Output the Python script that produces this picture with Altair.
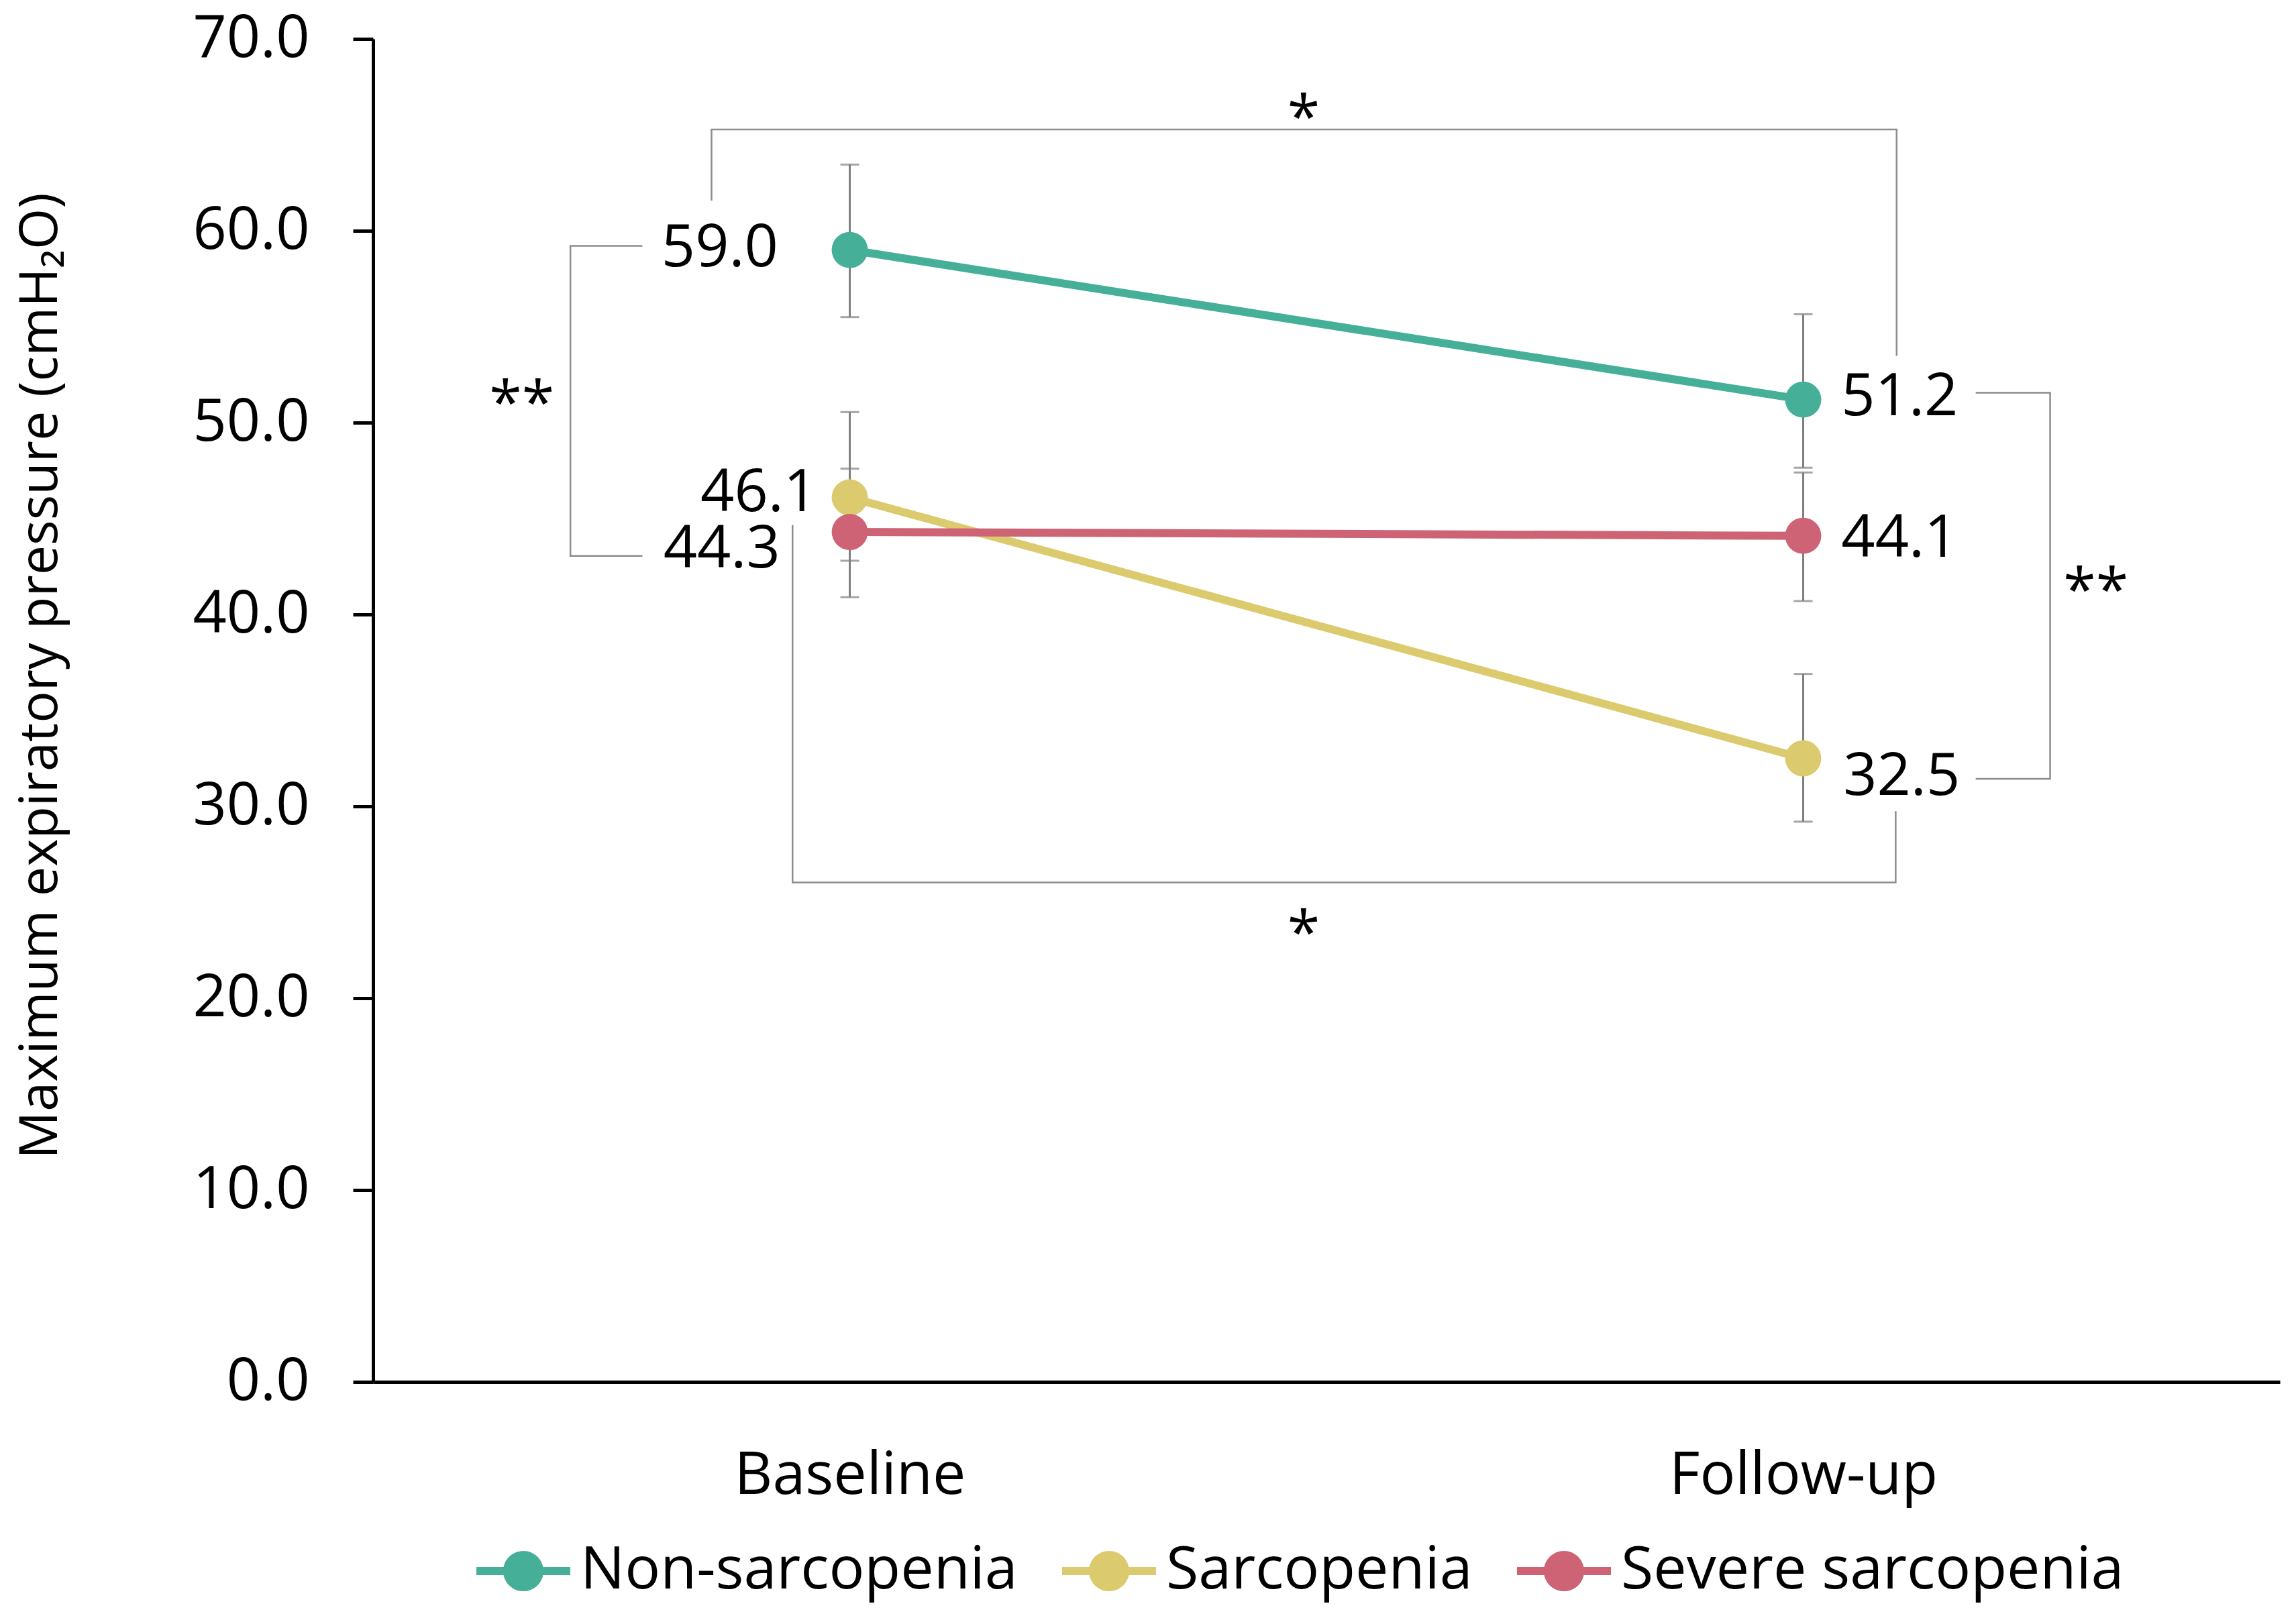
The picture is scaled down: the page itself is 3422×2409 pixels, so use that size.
import altair as alt
import pandas as pd

# ---- data ----
groups = ["Non-sarcopenia", "Sarcopenia", "Severe sarcopenia"]
colors = ["#45AF98", "#DCCB6E", "#CD6375"]
timepoints = ["Baseline", "Follow-up"]
time_pos = [0.5, 1.5]

baseline_mean = [59.0, 46.1, 44.3]
followup_mean = [51.2, 32.5, 44.1]
baseline_low = [55.5, 42.8, 40.9]
baseline_high = [63.45, 50.55, 47.6]
followup_low = [47.65, 29.2, 40.7]
followup_high = [55.65, 36.9, 47.4]

# value-label anchors (data units)
bl_label_x = [0.425, 0.466, 0.427]
bl_label_y = [58.16, 45.39, 42.45]
fu_label_x = [1.540, 1.542, 1.540]
fu_label_y = [50.4, 30.58, 43.0]

# significance brackets (data units)
bracket_id = ["top"] * 4 + ["left"] * 4 + ["bottom"] * 4 + ["right"] * 4
bracket_x = [0.355, 0.355, 1.598, 1.598,
             0.2825, 0.207, 0.207, 0.2825,
             0.440, 0.440, 1.597, 1.597,
             1.681, 1.759, 1.759, 1.681]
bracket_y = [61.57, 65.28, 65.28, 53.48,
             59.21, 59.21, 43.05, 43.05,
             44.66, 26.03, 26.03, 29.75,
             51.56, 51.56, 31.43, 31.43]

star_text = ["*", "*", "**", "**"]
star_x = [0.976, 0.976, 0.156, 1.807]
star_y = [64.87, 22.35, 49.95, 40.2]

y_ticks = [0, 10, 20, 30, 40, 50, 60, 70]
y_title = "Maximum expiratory pressure (cmH\u2082O)"
FONT = "Open Sans"

# ---- tables ----
rows = []
for gi, g in enumerate(groups):
    for ti, t in enumerate(timepoints):
        m = [baseline_mean, followup_mean][ti][gi]
        lo = [baseline_low, followup_low][ti][gi]
        hi = [baseline_high, followup_high][ti][gi]
        rows.append({"group": g, "time": t, "x": time_pos[ti], "y": m,
                     "low": lo, "high": hi})
means = pd.DataFrame(rows)

bl_labels = pd.DataFrame({"x": bl_label_x, "y": bl_label_y,
                          "text": [f"{v:.1f}" for v in baseline_mean]})
fu_labels = pd.DataFrame({"x": fu_label_x, "y": fu_label_y,
                          "text": [f"{v:.1f}" for v in followup_mean]})
brackets = pd.DataFrame({"bracket": bracket_id, "x": bracket_x, "y": bracket_y,
                         "seq": list(range(len(bracket_x)))})
stars = pd.DataFrame({"x": star_x, "y": star_y, "text": star_text})

label_expr = f"datum.value < 1 ? '{timepoints[0]}' : '{timepoints[1]}'"

X = alt.X("x:Q",
          scale=alt.Scale(domain=[0, 2], nice=False, zero=False),
          axis=alt.Axis(values=time_pos, labelExpr=label_expr, title=None,
                        ticks=False, tickSize=0, grid=False,
                        labelFontSize=88, labelFont=FONT, labelColor="#000000",
                        labelPadding=166, labelBaseline="alphabetic",
                        labelLimit=2000,
                        domainColor="#000000", domainWidth=5))

y_axis = alt.Axis(values=y_ticks, format=".1f",
                  title=y_title, grid=False,
                  ticks=True, tickSize=30, tickWidth=5, tickColor="#000000",
                  labelFontSize=88, labelFont=FONT, labelColor="#000000",
                  labelPadding=65, labelLimit=2000,
                  domainColor="#000000", domainWidth=5,
                  titleFontSize=79, titleFont=FONT, titleColor="#000000",
                  titleFontWeight="normal", titleAngle=270,
                  titleX=-496, titleY=949, titleAlign="center",
                  titleBaseline="middle", titleLimit=3000)
y_scale = alt.Scale(domain=[0, 70], nice=False, zero=True)


def Y(field):
    return alt.Y(f"{field}:Q", scale=y_scale, axis=y_axis, title=y_title)


legend = alt.Legend(
    title=None, orient="none", direction="horizontal",
    legendX=154, legendY=2214,
    symbolType="M-1,-0.086 L1,-0.086 L1,0.086 L-1,0.086 Z "
               "M0.43,0 A0.43,0.43 0 1 1 -0.43,0 A0.43,0.43 0 1 1 0.43,0 Z",
    symbolSize=19600, symbolStrokeWidth=0, symbolOpacity=1,
    labelFontSize=88, labelFont=FONT, labelColor="#000000",
    labelOffset=15, columnPadding=66, padding=0, labelLimit=2000)

color = alt.Color("group:N",
                  scale=alt.Scale(domain=groups, range=colors),
                  legend=legend)

bracket_layer = alt.Chart(brackets).mark_line(
    color="#8c8c8c", strokeWidth=2.5, strokeJoin="miter", strokeCap="butt"
).encode(x=X, y=Y("y"), detail="bracket:N", order="seq:Q")

err_layer = alt.Chart(means).mark_rule(color="#7f7f7f", strokeWidth=3).encode(
    x=X, y=Y("low"), y2="high:Q")

cap_layer = alt.Chart(means).transform_fold(
    ["low", "high"], as_=["which", "capv"]
).mark_tick(color="#7f7f7f", orient="horizontal", size=28, thickness=3).encode(
    x=X, y=Y("capv"))

line_layer = alt.Chart(means).mark_line(strokeWidth=12).encode(
    x=X, y=Y("y"), color=color, detail="group:N")

point_layer = alt.Chart(means).mark_circle(size=2900, opacity=1).encode(
    x=X, y=Y("y"), color=color)

bl_text = alt.Chart(bl_labels).mark_text(
    align="right", baseline="alphabetic", fontSize=88, font=FONT, color="#000000"
).encode(x=X, y=Y("y"), text="text:N")

fu_text = alt.Chart(fu_labels).mark_text(
    align="left", baseline="alphabetic", fontSize=88, font=FONT, color="#000000"
).encode(x=X, y=Y("y"), text="text:N")

star_layer = alt.Chart(stars).mark_text(
    align="center", baseline="alphabetic", fontSize=88, font=FONT, color="#000000"
).encode(x=X, y=Y("y"), text="text:N")

chart = alt.layer(
    bracket_layer, err_layer, cap_layer, line_layer, point_layer,
    bl_text, fu_text, star_layer
).properties(
    width=2842, height=2002,
    padding={"left": 548, "top": 50, "right": 16, "bottom": 341},
    autosize=alt.AutoSizeParams(type="none"),
    background="#ffffff",
).configure_view(stroke=None)

chart.save("out.html", embed_options={"renderer": "svg", "actions": False})
